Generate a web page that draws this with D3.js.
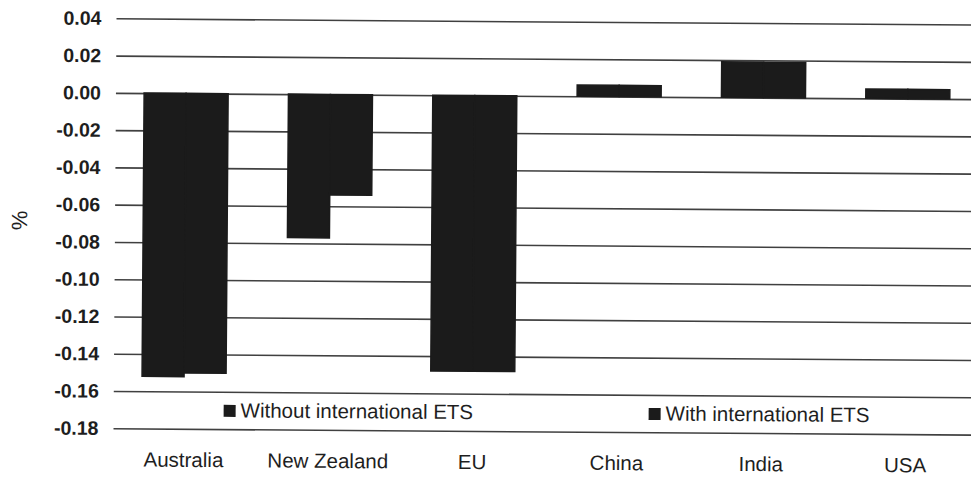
<!DOCTYPE html>
<html>
<head>
<meta charset="utf-8">
<script src="https://cdn.jsdelivr.net/npm/d3@7"></script>
<style>
  html, body { margin: 0; padding: 0; background: #fff; }
  svg { display: block; }
  text { font-family: "Liberation Sans", Arial, sans-serif; fill: #1e1e1e; }
</style>
</head>
<body>
<svg id="chart" width="971" height="477"></svg>
<script>
// Regions and the two scenarios
const categories = ["Australia", "New Zealand", "EU", "China", "India", "USA"];
const seriesNames = ["Without international ETS", "With international ETS"];
const withoutETS = [-0.152, -0.077, -0.148, 0.006, 0.019, 0.005];
const withETS    = [-0.150, -0.054, -0.148, 0.006, 0.019, 0.005];
const yTicks = [0.04, 0.02, 0.00, -0.02, -0.04, -0.06, -0.08, -0.10, -0.12, -0.14, -0.16, -0.18];
const yLabel = "%";

const seriesValues = [withoutETS, withETS];
const rows = categories.map((c, i) => ({
  category: c,
  values: seriesNames.map((s, j) => ({ series: s, value: seriesValues[j][i] }))
}));

const svg = d3.select("#chart");
const W = 971, H = 477;

// Whole chart sits slightly tilted
const g = svg.append("g").attr("transform", "rotate(0.42, 115, 225)");

const y = d3.scaleLinear().domain([-0.18, 0.04]).range([428.3, 18.3]);
const x0 = d3.scaleBand().domain(categories).range([113, 979])
  .paddingInner(0.418).paddingOuter(0.209);
const x1 = d3.scaleBand().domain(seriesNames).range([0, x0.bandwidth()]).padding(0);

// Horizontal gridlines via the y axis
const yAxis = d3.axisLeft(y).tickValues(yTicks).tickFormat(d3.format(".2f"))
  .tickSize(-(W - 115 + 10)).tickPadding(15);
const ya = g.append("g").attr("transform", "translate(115,0)").call(yAxis);
ya.select(".domain").remove();
ya.selectAll(".tick line").attr("stroke", "#404040").attr("stroke-width", 1.6);
ya.selectAll(".tick text")
  .attr("font-size", 19.5).attr("font-weight", "bold")
  .attr("fill", "#1e1e1e")
  .text(d => d3.format(".2f")(d).replace("−", "-"));

// Bars (matching stroke closes the seam between the pair)
const groups = g.append("g").selectAll("g").data(rows).join("g")
  .attr("transform", d => `translate(${x0(d.category)},0)`);
groups.selectAll("rect").data(d => d.values).join("rect")
  .attr("x", d => x1(d.series))
  .attr("width", x1.bandwidth())
  .attr("y", d => y(Math.max(0, d.value)))
  .attr("height", d => Math.abs(y(d.value) - y(0)))
  .attr("fill", "#1b1b1b")
  .attr("stroke", "#1b1b1b")
  .attr("stroke-width", 1.5);

// Category labels
const xAxis = d3.axisBottom(x0).tickSize(0).tickPadding(0);
const xa = g.append("g").attr("transform", "translate(0,451)").call(xAxis);
xa.select(".domain").remove();
xa.selectAll(".tick text").attr("font-size", 20.5).attr("fill", "#1e1e1e")
  .attr("dy", "0.75em");

// Y axis title
g.append("text")
  .attr("transform", "translate(27,221) rotate(-90)")
  .attr("text-anchor", "middle")
  .attr("font-size", 22)
  .text(yLabel);

// Legend
const legendPos = [225, 650];
const leg = g.append("g").selectAll("g").data(seriesNames).join("g")
  .attr("transform", (d, i) => `translate(${legendPos[i]},0)`);
leg.append("rect").attr("x", 0).attr("y", 404).attr("width", 12).attr("height", 12)
  .attr("fill", "#1b1b1b");
leg.append("text").attr("x", 17).attr("y", 416.5).attr("font-size", 20.5).text(d => d);
</script>
</body>
</html>
